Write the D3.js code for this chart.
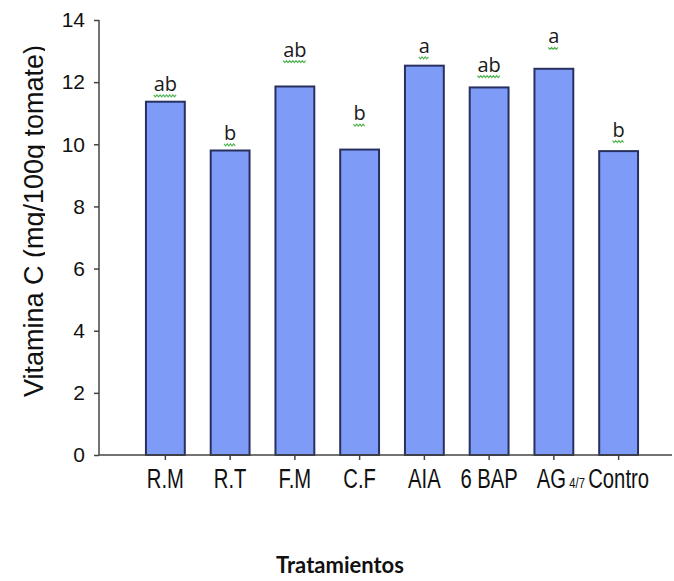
<!DOCTYPE html>
<html>
<head>
<meta charset="utf-8">
<script src="https://cdn.jsdelivr.net/npm/d3@7"></script>
<style>
  html, body { margin: 0; padding: 0; background: #fff; }
  svg { display: block; }
</style>
</head>
<body>
<svg id="chart" width="674" height="581"></svg>
<script>
// ---- data ----
const categories = ["R.M", "R.T", "F.M", "C.F", "AIA", "6 BAP", "AG", "Contro"];
const vitaminC = [11.37, 9.80, 11.86, 9.83, 12.53, 11.83, 12.43, 9.78];
const letters = ["ab", "b", "ab", "b", "a", "ab", "a", "b"];
const letterLevel = [11.72, 10.14, 12.82, 10.78, 12.94, 12.34, 13.25, 10.25];
const yTicks = [0, 2, 4, 6, 8, 10, 12, 14];

const svg = d3.select("#chart");
const axisX = 99, yTop = 20, yBottom = 455, xRight = 672;

const y = d3.scaleLinear().domain([0, 14]).range([yBottom, yTop]);
const x = d3.scaleBand().domain(categories).range([133, 651])
  .paddingInner(0.4).paddingOuter(0.2);

// bars
svg.append("g").selectAll("rect").data(categories).join("rect")
  .attr("x", d => x(d))
  .attr("y", (d, i) => y(vitaminC[i]))
  .attr("width", x.bandwidth())
  .attr("height", (d, i) => y(0) - y(vitaminC[i]))
  .attr("fill", "#7f9bf8")
  .attr("stroke", "#27305e")
  .attr("stroke-width", 2);

// y axis
const yAxis = svg.append("g").attr("transform", `translate(${axisX},0)`)
  .call(d3.axisLeft(y).tickValues(yTicks).tickSize(5).tickPadding(9).tickFormat(d3.format("d")));
yAxis.select(".domain").attr("stroke", "#444").attr("stroke-width", 1.5).attr("d", `M0,${yTop}V${yBottom}`);
yAxis.selectAll(".tick line").attr("stroke", "#444").attr("stroke-width", 1.5);
yAxis.selectAll(".tick text")
  .attr("font-family", "Liberation Sans, Arial, sans-serif")
  .attr("font-size", 21).attr("fill", "#111");

// x axis
const xAxis = svg.append("g").attr("transform", `translate(0,${yBottom})`)
  .call(d3.axisBottom(x).tickSize(5).tickFormat(""));
xAxis.select(".domain").attr("stroke", "#444").attr("stroke-width", 1.5).attr("d", `M${axisX},0H${xRight}`);
xAxis.selectAll(".tick line").attr("stroke", "#444").attr("stroke-width", 1.5);

// x tick labels (condensed)
const xl = svg.append("g");
categories.forEach((c, i) => {
  const cx = x(c) + x.bandwidth() / 2;
  const g = xl.append("g").attr("transform", `translate(${cx + (c === "AG" ? 7 : 0)},488) scale(0.75,1)`);
  const t = g.append("text")
    .attr("text-anchor", "middle")
    .attr("font-family", "Liberation Sans, Arial, sans-serif")
    .attr("font-size", 27).attr("fill", "#111");
  t.append("tspan").text(c);
  if (c === "AG") {
    t.append("tspan").attr("font-size", 15).text(" 4/7");
  }
});

// significance letters with green squiggles
const lg = svg.append("g");
categories.forEach((c, i) => {
  const cx = x(c) + x.bandwidth() / 2;
  const by = y(letterLevel[i]);
  const t = lg.append("text")
    .attr("x", cx).attr("y", by)
    .attr("text-anchor", "middle")
    .attr("font-family", "'Open Sans', Lato, sans-serif")
    .attr("font-size", 20).attr("fill", "#1a1a1a")
    .text(letters[i]);
  const w = t.node().getComputedTextLength();
  const x0 = cx - w / 2, x1 = cx + w / 2;
  let p = `M${x0},${by + 4}`;
  let k = 0;
  for (let xx = x0 + 1.6; xx <= x1 + 0.01; xx += 1.6) {
    p += `L${xx},${by + 4 + (k % 2 === 0 ? 2 : 0)}`;
    k++;
  }
  lg.append("path").attr("d", p).attr("fill", "none")
    .attr("stroke", "#4fb24f").attr("stroke-width", 1.1);
});

// y axis title (clipped descenders as in reference)
svg.append("clipPath").attr("id", "yclip")
  .append("rect").attr("x", 0).attr("y", 0).attr("width", 45).attr("height", 581);
svg.append("g").attr("clip-path", "url(#yclip)")
  .append("text")
  .attr("transform", "translate(43,221) rotate(-90)")
  .attr("text-anchor", "middle")
  .attr("font-family", "Liberation Sans, Arial, sans-serif")
  .attr("font-size", 27).attr("fill", "#111")
  .text("Vitamina C (mg/100g tomate)");

// x axis title
svg.append("text")
  .attr("x", 340).attr("y", 573)
  .attr("text-anchor", "middle")
  .attr("font-family", "Lato, 'Open Sans', sans-serif")
  .attr("font-weight", "bold")
  .attr("font-size", 22).attr("fill", "#111")
  .text("Tratamientos");
</script>
</body>
</html>
